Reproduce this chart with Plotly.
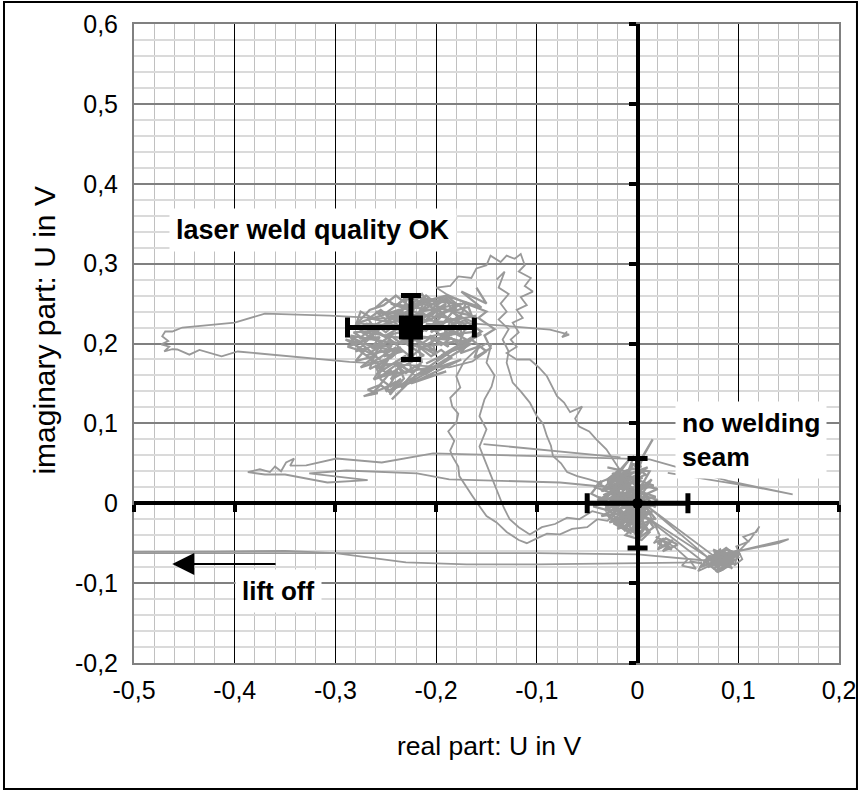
import plotly.graph_objects as go

# ---------------- data ----------------
x_tick_vals = [-0.5, -0.4, -0.3, -0.2, -0.1, 0.0, 0.1, 0.2]
x_tick_text = ["-0,5", "-0,4", "-0,3", "-0,2", "-0,1", "0", "0,1", "0,2"]
y_tick_vals = [-0.2, -0.1, 0.0, 0.1, 0.2, 0.3, 0.4, 0.5, 0.6]
y_tick_text = ["-0,2", "-0,1", "0", "0,1", "0,2", "0,3", "0,4", "0,5", "0,6"]

# mean points with standard deviation (error bars)
ok_x, ok_y, ok_ex, ok_ey = [-0.225], [0.22], [0.063], [0.04]
seam_x, seam_y, seam_ex, seam_ey = [0.0], [0.0], [0.05], [0.056]

left_loop_x = [-0.070, -0.075, -0.068, -0.087, -0.13, -0.20, -0.306, -0.33, -0.37, -0.40,
               -0.452, -0.462, -0.469, -0.472, -0.466, -0.473, -0.465, -0.470, -0.462,
               -0.457, -0.445, -0.435, -0.413, -0.397, -0.286, -0.187, -0.164, -0.15]
left_loop_y = [0.215, 0.208, 0.211, 0.2175, 0.222, 0.228, 0.235, 0.236, 0.2375, 0.226,
               0.22, 0.215, 0.215, 0.209, 0.203, 0.199, 0.196, 0.190, 0.193,
               0.1925, 0.186, 0.192, 0.184, 0.19, 0.177, 0.17, 0.1775, 0.19]

cluster_ok_x = [-0.15, -0.165, -0.155, -0.178, -0.17, -0.192, -0.185, -0.205, -0.198, -0.222,
                -0.212, -0.236, -0.228, -0.25, -0.245, -0.268, -0.26, -0.282, -0.27, -0.288,
                -0.272, -0.28, -0.262, -0.266, -0.25, -0.258, -0.244, -0.256, -0.268, -0.258,
                -0.272, -0.252, -0.24, -0.246, -0.232, -0.238, -0.224, -0.228, -0.214, -0.218,
                -0.2, -0.206, -0.188, -0.192, -0.174, -0.18, -0.162, -0.168, -0.184, -0.19,
                -0.204, -0.214, -0.226, -0.24, -0.252, -0.266, -0.278, -0.262, -0.276, -0.256,
                -0.264, -0.244, -0.252, -0.234, -0.24, -0.222, -0.232, -0.21, -0.22, -0.196,
                -0.204, -0.182, -0.19, -0.168, -0.176, -0.158, -0.162, -0.146, -0.152, -0.142,
                -0.158, -0.15, -0.17]
cluster_ok_y = [0.19, 0.205, 0.212, 0.198, 0.222, 0.206, 0.232, 0.214, 0.242, 0.226,
                0.252, 0.234, 0.258, 0.238, 0.226, 0.232, 0.216, 0.214, 0.204, 0.196,
                0.19, 0.178, 0.184, 0.168, 0.178, 0.158, 0.166, 0.148, 0.142, 0.138,
                0.134, 0.144, 0.152, 0.136, 0.156, 0.174, 0.164, 0.186, 0.176, 0.198,
                0.186, 0.21, 0.196, 0.222, 0.21, 0.236, 0.226, 0.246, 0.24, 0.256,
                0.244, 0.262, 0.246, 0.26, 0.248, 0.242, 0.226, 0.222, 0.206, 0.208,
                0.194, 0.198, 0.184, 0.19, 0.2, 0.21, 0.222, 0.228, 0.238, 0.232,
                0.224, 0.218, 0.208, 0.2, 0.188, 0.196, 0.182, 0.194, 0.21, 0.218,
                0.232, 0.24, 0.25]

cluster_ok2_x = [-0.17, -0.2, -0.18, -0.215, -0.19, -0.23, -0.205, -0.245, -0.22, -0.26,
                 -0.235, -0.27, -0.25, -0.28, -0.255, -0.265, -0.24, -0.255, -0.23, -0.245,
                 -0.215, -0.235, -0.2, -0.22, -0.185, -0.21, -0.17, -0.195, -0.16, -0.18,
                 -0.2, -0.175, -0.215, -0.19, -0.235, -0.205, -0.25, -0.225, -0.27, -0.24,
                 -0.285, -0.26, -0.275, -0.25, -0.262, -0.238, -0.25, -0.228, -0.244, -0.22,
                 -0.238, -0.212, -0.23, -0.2, -0.225, -0.19, -0.21, -0.18, -0.2, -0.165,
                 -0.19, -0.155, -0.175, -0.15, -0.16]
cluster_ok2_y = [0.23, 0.215, 0.245, 0.225, 0.25, 0.22, 0.255, 0.23, 0.245, 0.215,
                 0.24, 0.205, 0.225, 0.19, 0.2, 0.175, 0.195, 0.165, 0.185, 0.155,
                 0.175, 0.145, 0.17, 0.16, 0.19, 0.175, 0.2, 0.21, 0.215, 0.23,
                 0.235, 0.25, 0.24, 0.26, 0.245, 0.255, 0.235, 0.22, 0.225, 0.2,
                 0.21, 0.185, 0.17, 0.18, 0.155, 0.165, 0.14, 0.15, 0.13, 0.16,
                 0.175, 0.185, 0.2, 0.19, 0.21, 0.205, 0.225, 0.22, 0.245, 0.235,
                 0.26, 0.245, 0.265, 0.25, 0.27]

cluster_ok3_x = [-0.16, -0.2, -0.17, -0.215, -0.185, -0.235, -0.2, -0.25, -0.215, -0.265,
                 -0.23, -0.28, -0.245, -0.27, -0.235, -0.26, -0.22, -0.25, -0.205, -0.24,
                 -0.19, -0.225, -0.175, -0.21, -0.165, -0.195, -0.155, -0.185, -0.215, -0.18,
                 -0.23, -0.195, -0.245, -0.21, -0.26, -0.225, -0.275, -0.24, -0.29, -0.255]
cluster_ok3_y = [0.235, 0.225, 0.205, 0.195, 0.215, 0.2, 0.225, 0.21, 0.235, 0.22,
                 0.245, 0.225, 0.205, 0.185, 0.195, 0.17, 0.18, 0.16, 0.17, 0.145,
                 0.165, 0.15, 0.18, 0.165, 0.2, 0.185, 0.215, 0.24, 0.255, 0.25,
                 0.26, 0.24, 0.25, 0.235, 0.24, 0.205, 0.215, 0.19, 0.205, 0.18]

cluster_ok4_x = [-0.26, -0.25, -0.24, -0.23, -0.22, -0.21, -0.2, -0.19, -0.18, -0.17,
                 -0.175, -0.185, -0.195, -0.205, -0.215, -0.225, -0.235, -0.245, -0.255, -0.265, -0.275,
                 -0.28, -0.27, -0.26, -0.25, -0.24, -0.23, -0.22, -0.21, -0.2, -0.19, -0.18, -0.17, -0.16,
                 -0.165, -0.175, -0.185, -0.195, -0.205, -0.215, -0.225, -0.235, -0.245, -0.255, -0.265,
                 -0.275, -0.285,
                 -0.275, -0.265, -0.255, -0.245, -0.235, -0.225, -0.215, -0.205, -0.195, -0.185,
                 -0.2, -0.21, -0.22, -0.23, -0.24, -0.25, -0.26,
                 -0.255, -0.245, -0.235, -0.245, -0.255, -0.265]
cluster_ok4_y = [0.245, 0.256, 0.247, 0.258, 0.249, 0.26, 0.25, 0.257, 0.246, 0.252,
                 0.236, 0.228, 0.239, 0.23, 0.24, 0.231, 0.241, 0.232, 0.242, 0.233, 0.24,
                 0.222, 0.212, 0.224, 0.214, 0.225, 0.215, 0.226, 0.216, 0.227, 0.217, 0.228, 0.218, 0.226,
                 0.204, 0.196, 0.207, 0.198, 0.208, 0.199, 0.209, 0.2, 0.21, 0.201, 0.211,
                 0.202, 0.208,
                 0.19, 0.181, 0.192, 0.182, 0.193, 0.183, 0.194, 0.184, 0.192, 0.182,
                 0.17, 0.162, 0.172, 0.163, 0.173, 0.164, 0.172,
                 0.155, 0.146, 0.156, 0.138, 0.148, 0.136]

top_loop_x = [-0.17, -0.19, -0.2, -0.186, -0.178, -0.165, -0.16, -0.15, -0.146, -0.136,
              -0.13, -0.122, -0.116, -0.112, -0.118, -0.106, -0.112, -0.104, -0.116, -0.11,
              -0.12, -0.114, -0.124, -0.118, -0.126, -0.12, -0.13, -0.12, -0.107, -0.098,
              -0.09, -0.085, -0.08, -0.073, -0.067, -0.055, -0.062, -0.058, -0.048, -0.041,
              -0.036, -0.031, -0.026, -0.018]
top_loop_y = [0.25, 0.262, 0.27, 0.272, 0.284, 0.282, 0.294, 0.298, 0.31, 0.302,
              0.31, 0.306, 0.312, 0.298, 0.29, 0.282, 0.272, 0.265, 0.258, 0.248,
              0.242, 0.232, 0.226, 0.214, 0.205, 0.196, 0.188, 0.18, 0.18, 0.17,
              0.159, 0.146, 0.134, 0.126, 0.114, 0.121, 0.106, 0.096, 0.09, 0.08,
              0.074, 0.0675, 0.058, 0.0425]

inner_x = [-0.14, -0.132, -0.138, -0.128, -0.136, -0.13, -0.138, -0.128, -0.134, -0.128,
           -0.13, -0.124, -0.116, -0.107, -0.1, -0.094, -0.09, -0.086, -0.084, -0.076,
           -0.07, -0.06, -0.048, -0.035]
inner_y = [0.28, 0.29, 0.27, 0.262, 0.25, 0.24, 0.23, 0.218, 0.205, 0.19,
           0.176, 0.151, 0.14, 0.126, 0.109, 0.1, 0.084, 0.072, 0.059, 0.05,
           0.039, 0.034, 0.03, 0.025]

left_descent_x = [-0.15, -0.16, -0.172, -0.18, -0.176, -0.186, -0.184, -0.178, -0.18, -0.188,
                  -0.182, -0.186, -0.184, -0.178, -0.177, -0.17, -0.164, -0.158, -0.15, -0.14,
                  -0.13, -0.118, -0.11, -0.1, -0.09, -0.077, -0.065, -0.05, -0.04, -0.03, -0.02]
left_descent_y = [0.2, 0.1925, 0.178, 0.159, 0.145, 0.132, 0.121, 0.112, 0.101, 0.09,
                  0.078, 0.066, 0.059, 0.046, 0.034, 0.02, 0.009, -0.002, -0.016, -0.024,
                  -0.036, -0.046, -0.05, -0.044, -0.038, -0.039, -0.032, -0.03, -0.02, -0.022, -0.012]

mid_descent_x = [-0.145, -0.15, -0.142, -0.145, -0.152, -0.157, -0.15, -0.157, -0.152, -0.147,
                 -0.142, -0.137, -0.133, -0.127, -0.118, -0.107, -0.095, -0.082, -0.07, -0.058,
                 -0.045, -0.033, -0.02]
mid_descent_y = [0.2, 0.176, 0.16, 0.146, 0.13, 0.109, 0.0925, 0.071, 0.055, 0.039,
                 0.024, 0.009, -0.005, -0.02, -0.03, -0.039, -0.03, -0.026, -0.018, -0.02,
                 -0.01, -0.014, -0.004]

spur_a_x = [-0.387, -0.375, -0.365, -0.36, -0.354, -0.349, -0.341, -0.345, -0.329, -0.299,
            -0.254, -0.203, -0.1, 0.012, 0.04, 0.09, 0.154, 0.118, 0.03]
spur_a_y = [0.039, 0.0425, 0.039, 0.046, 0.04, 0.051, 0.056, 0.047, 0.0475, 0.056,
            0.051, 0.0625, 0.059, 0.055, 0.045, 0.028, 0.011, 0.02, 0.038]

spur_b_x = [-0.387, -0.37, -0.35, -0.308, -0.268, -0.326, -0.289, -0.219, -0.187, -0.077, -0.008]
spur_b_y = [0.039, 0.036, 0.036, 0.026, 0.029, 0.0375, 0.041, 0.0375, 0.03, 0.026, 0.0175]

mid_line_x = [-0.153, -0.09, -0.017]
mid_line_y = [0.074, 0.066, 0.0575]

origin_cluster_x = [-0.018, -0.03, -0.012, -0.026, -0.008, -0.034, -0.014, -0.04, -0.02, -0.032,
                    -0.01, -0.024, -0.004, -0.018, 0.004, -0.012, 0.008, -0.006, 0.01, -0.002,
                    0.006, -0.01, 0.014, -0.004, 0.012, -0.016, 0.006, -0.022, 0.002, -0.014,
                    0.004, -0.006, 0.008, -0.002, 0.016, 0.0, 0.018, -0.008, 0.014, -0.028,
                    -0.042, -0.036, -0.046, -0.03, -0.044, -0.026, -0.036, -0.016, -0.028, -0.008,
                    -0.02, 0.0, -0.012, 0.004, 0.012, 0.002, 0.018, 0.008, 0.02, 0.006,
                    0.02, 0.004, 0.012, -0.008, -0.004, 0.002, 0.015, 0.006, 0.0, -0.02,
                    -0.01, 0.006]
origin_cluster_y = [0.042, 0.03, 0.036, 0.018, 0.028, 0.01, 0.02, 0.004, 0.008, -0.006,
                    0.012, -0.012, 0.004, -0.02, -0.006, -0.028, -0.016, -0.036, -0.026, -0.042,
                    -0.032, -0.022, -0.012, -0.01, 0.002, 0.0, 0.014, 0.024, 0.026, 0.04,
                    0.046, 0.05, 0.036, 0.03, 0.022, 0.016, 0.008, 0.0, -0.004, 0.014,
                    0.02, 0.028, 0.012, 0.002, -0.004, -0.01, -0.016, -0.012, -0.024, -0.018,
                    -0.032, -0.024, -0.04, -0.046, -0.036, -0.018, -0.02, -0.004, 0.004, 0.01,
                    0.018, 0.022, 0.04, 0.044, 0.058, 0.052, 0.08, 0.06, 0.04, 0.03,
                    0.02, 0.002]

origin_cluster2_x = [-0.02, 0.0, -0.03, -0.005, -0.035, -0.01, -0.028, 0.005, -0.022, 0.01,
                     -0.015, 0.015, -0.008, 0.012, -0.025, 0.004, -0.038, -0.012, -0.03, 0.0,
                     -0.018, 0.008, -0.026, -0.004, -0.032, 0.006, -0.016, 0.014, -0.006, 0.018,
                     -0.012, 0.01, -0.02, 0.002, -0.028, -0.008, -0.04, -0.015, -0.025, -0.002,
                     -0.012, 0.008, -0.005, 0.012, 0.0, 0.016, -0.01, 0.006, -0.018, -0.003]
origin_cluster2_y = [0.02, 0.035, 0.025, 0.045, 0.015, 0.03, 0.005, 0.02, -0.005, 0.01,
                     -0.015, 0.0, -0.025, -0.012, 0.0, -0.03, 0.008, -0.035, 0.03, -0.02,
                     0.04, -0.008, 0.012, 0.05, -0.01, 0.025, -0.028, 0.03, 0.01, -0.005,
                     0.035, 0.045, 0.02, -0.04, -0.018, 0.015, 0.0, 0.022, 0.038, 0.01,
                     0.028, 0.0, -0.03, -0.022, -0.045, -0.03, 0.015, -0.015, 0.005, 0.0]

origin_cluster3_x = [-0.03, -0.005, -0.025, 0.005, -0.02, 0.012, -0.015, -0.04, -0.01, -0.035,
                     0.0, -0.028, 0.008, -0.022, 0.015, -0.012, -0.03, -0.006, -0.024, 0.004,
                     -0.018, 0.01, -0.014, -0.036, -0.008, -0.02, 0.002, -0.026, 0.006, -0.01]
origin_cluster3_y = [0.045, 0.038, 0.028, 0.032, 0.018, 0.022, 0.01, 0.025, 0.04, 0.0,
                     0.012, -0.01, 0.0, -0.02, -0.01, -0.03, -0.015, -0.038, -0.025, -0.02,
                     0.005, -0.035, 0.03, 0.015, 0.055, 0.035, -0.045, 0.0, 0.042, 0.02]

right_tail_x = [0.006, 0.014, 0.022, 0.016, 0.026, 0.02, 0.032, 0.024, 0.036, 0.05,
                0.044, 0.058, 0.052, 0.064, 0.06, 0.072, 0.068, 0.08, 0.076, 0.088,
                0.084, 0.094, 0.09, 0.1, 0.096, 0.104, 0.098, 0.11, 0.105, 0.118,
                0.121, 0.112, 0.102, 0.086, 0.15, 0.14, 0.1, 0.08, 0.01, 0.07,
                0.0, 0.064]
right_tail_y = [0.002, -0.02, -0.04, -0.05, -0.044, -0.058, -0.05, -0.046, -0.054, -0.07,
                -0.078, -0.082, -0.072, -0.076, -0.085, -0.078, -0.066, -0.074, -0.06, -0.068,
                -0.084, -0.072, -0.058, -0.064, -0.078, -0.07, -0.054, -0.048, -0.042, -0.036,
                -0.029, -0.045, -0.058, -0.064, -0.045, -0.05, -0.06, -0.07, -0.004, -0.068,
                -0.01, -0.072]

right_cluster_x = [0.065, 0.08, 0.07, 0.09, 0.075, 0.095, 0.082, 0.1, 0.088, 0.072,
                   0.092, 0.078, 0.098, 0.085, 0.068, 0.09, 0.076, 0.094, 0.084, 0.102,
                   0.088, 0.074, 0.096, 0.08, 0.066, 0.086, 0.092, 0.078, 0.1, 0.084]
right_cluster_y = [-0.075, -0.062, -0.08, -0.066, -0.058, -0.075, -0.085, -0.068, -0.056, -0.07,
                   -0.08, -0.064, -0.062, -0.078, -0.068, -0.074, -0.06, -0.082, -0.066, -0.064,
                   -0.058, -0.078, -0.07, -0.086, -0.072, -0.06, -0.078, -0.07, -0.06, -0.074]

right_cluster2_x = [0.07, 0.095, 0.075, 0.1, 0.08, 0.092, 0.068, 0.088, 0.078, 0.098,
                    0.072, 0.09, 0.082, 0.062, 0.086, 0.096, 0.076, 0.094]
right_cluster2_y = [-0.066, -0.07, -0.082, -0.06, -0.072, -0.08, -0.07, -0.062, -0.086, -0.066,
                    -0.078, -0.074, -0.058, -0.08, -0.07, -0.076, -0.064, -0.062]

small_cluster_x = [0.018, 0.03, 0.022, 0.035, 0.025, 0.04, 0.028, 0.02, 0.034, 0.026]
small_cluster_y = [-0.042, -0.05, -0.056, -0.046, -0.06, -0.052, -0.044, -0.05, -0.058, -0.048]

liftoff_a_x = [0.07, 0.0, -0.1, -0.3, -0.5]
liftoff_a_y = [-0.072, -0.064, -0.0625, -0.0625, -0.0625]
liftoff_b_x = [0.064, 0.0, -0.1, -0.17, -0.23, -0.3, -0.35, -0.42, -0.5]
liftoff_b_y = [-0.074, -0.075, -0.0765, -0.0765, -0.074, -0.0625, -0.0595, -0.0605, -0.061]

path_segments = [
    (left_loop_x, left_loop_y), (top_loop_x, top_loop_y), (inner_x, inner_y),
    (left_descent_x, left_descent_y), (mid_descent_x, mid_descent_y),
    (spur_a_x, spur_a_y), (spur_b_x, spur_b_y), (mid_line_x, mid_line_y),
    (right_tail_x, right_tail_y), (liftoff_a_x, liftoff_a_y), (liftoff_b_x, liftoff_b_y),
]
cluster_segments = [
    (cluster_ok_x, cluster_ok_y), (cluster_ok2_x, cluster_ok2_y),
    (cluster_ok3_x, cluster_ok3_y), (cluster_ok4_x, cluster_ok4_y),
    (origin_cluster_x, origin_cluster_y), (origin_cluster2_x, origin_cluster2_y),
    (origin_cluster3_x, origin_cluster3_y), (right_cluster_x, right_cluster_y),
    (right_cluster2_x, right_cluster2_y), (small_cluster_x, small_cluster_y),
]

FONT = "Liberation Sans, Arial, sans-serif"
GRAY = "#999999"

fig = go.Figure()
for sx, sy in path_segments:
    fig.add_trace(go.Scatter(x=sx, y=sy, mode="lines", line=dict(color=GRAY, width=1.8),
                             hoverinfo="skip", showlegend=False))
for sx, sy in cluster_segments:
    fig.add_trace(go.Scatter(x=sx, y=sy, mode="lines", line=dict(color=GRAY, width=2.3),
                             hoverinfo="skip", showlegend=False))

# mean points with error bars, drawn on the overlay axes
fig.add_trace(go.Scatter(x=ok_x, y=ok_y, xaxis="x2", yaxis="y2", mode="markers",
                         marker=dict(symbol="square", size=24, color="black"),
                         error_x=dict(type="data", array=ok_ex, color="black", thickness=5, width=10),
                         error_y=dict(type="data", array=ok_ey, color="black", thickness=5, width=10),
                         showlegend=False))
fig.add_trace(go.Scatter(x=seam_x, y=seam_y, xaxis="x2", yaxis="y2", mode="markers",
                         marker=dict(symbol="circle", size=11, color="black"),
                         error_x=dict(type="data", array=seam_ex, color="black", thickness=5, width=10),
                         error_y=dict(type="data", array=seam_ey, color="black", thickness=5, width=10),
                         showlegend=False))

XR = [-0.5, 0.2]
YR = [-0.2, 0.6]

fig.update_layout(
    width=863, height=793,
    margin=dict(l=134, r=24, t=24, b=130, autoexpand=False),
    paper_bgcolor="white", plot_bgcolor="white",
    showlegend=False,
    font=dict(family=FONT, size=25, color="black"),
    xaxis=dict(range=XR, tickmode="array", tickvals=x_tick_vals, ticktext=x_tick_text,
               showgrid=True, gridcolor="black", gridwidth=1,
               minor=dict(tickmode="linear", tick0=0, dtick=0.02, showgrid=True,
                          gridcolor="#c0c0c0", gridwidth=1),
               zeroline=False, showline=True, linecolor="#808080", linewidth=2, mirror=True,
               ticks="", ticklen=0, ticklabelstandoff=4, automargin=False),
    yaxis=dict(range=YR, tickmode="array", tickvals=y_tick_vals, ticktext=y_tick_text,
               showgrid=True, gridcolor="#808080", gridwidth=2,
               minor=dict(tickmode="linear", tick0=0, dtick=0.02, showgrid=True,
                          gridcolor="#dadada", gridwidth=2),
               zeroline=False, showline=True, linecolor="#808080", linewidth=2, mirror=True,
               ticks="", ticklen=0, ticklabelstandoff=9, automargin=False),
    xaxis2=dict(overlaying="x", anchor="free", position=(0 - YR[0]) / (YR[1] - YR[0]),
                side="bottom", range=XR, tickmode="array", tickvals=x_tick_vals,
                showticklabels=False, showgrid=False, zeroline=False, automargin=False,
                showline=True, linecolor="black", linewidth=4,
                ticks="outside", ticklen=7, tickwidth=4, tickcolor="black"),
    yaxis2=dict(overlaying="y", anchor="free", position=(0 - XR[0]) / (XR[1] - XR[0]),
                side="left", range=YR, tickmode="array", tickvals=y_tick_vals,
                showticklabels=False, showgrid=False, zeroline=False, automargin=False,
                showline=True, linecolor="black", linewidth=4,
                ticks="outside", ticklen=7, tickwidth=4, tickcolor="black"),
    shapes=[dict(type="rect", xref="paper", yref="paper", x0=-0.1844, x1=1.0255,
                 y0=-0.1972, y1=1.0344, line=dict(color="black", width=2),
                 fillcolor="rgba(0,0,0,0)", layer="above")],
    annotations=[
        dict(x=0.504, y=-0.13, xref="paper", yref="paper", text="real part: U in V",
             showarrow=False, font=dict(family=FONT, size=26.5), yanchor="middle"),
        dict(x=-0.127, y=0.521, xref="paper", yref="paper", text="imaginary part: U in V",
             textangle=-90, showarrow=False, font=dict(family=FONT, size=30), xanchor="center"),
        dict(x=-0.3227, y=0.3425, xref="x", yref="y", text="laser weld quality OK",
             showarrow=False, font=dict(family=FONT, size=27, weight="bold"),
             bgcolor="white", borderpad=6),
        dict(x=0.113, y=0.079, xref="x", yref="y", text="no welding<br>seam", align="left",
             showarrow=False, font=dict(family=FONT, size=26.5, weight="bold"),
             bgcolor="white", borderpad=6),
        dict(x=-0.357, y=-0.11, xref="x", yref="y", text="lift off",
             showarrow=False, font=dict(family=FONT, size=26, weight="bold"),
             bgcolor="white", borderpad=6),
        dict(x=-0.462, y=-0.076, xref="x", yref="y", ax=-0.358, ay=-0.076,
             axref="x", ayref="y", text="", showarrow=True, arrowhead=2,
             arrowsize=2.2, arrowwidth=2, arrowcolor="black"),
    ],
)

fig.write_html("out.html", post_script="document.body.style.margin='0px';",
               config={"displayModeBar": False})
